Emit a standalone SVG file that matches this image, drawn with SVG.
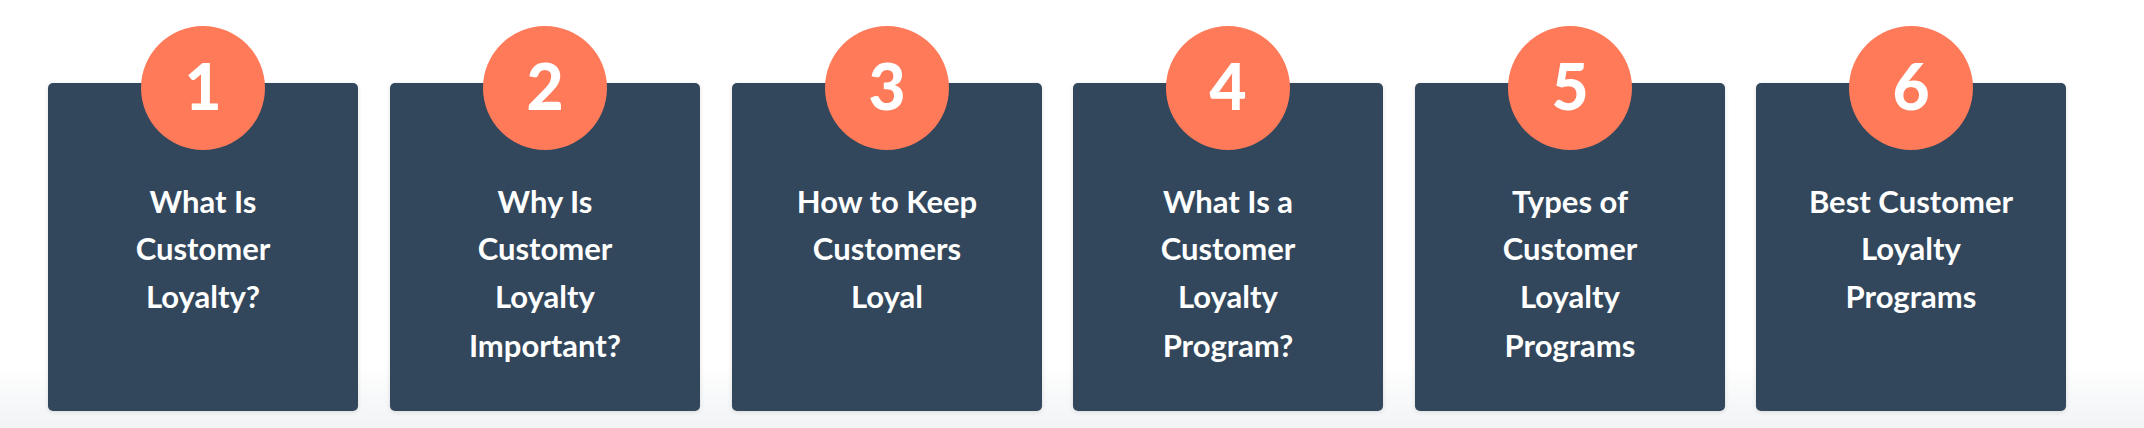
<svg xmlns="http://www.w3.org/2000/svg" width="2144" height="428" viewBox="0 0 2144 428">
<defs>
<linearGradient id="bg" x1="0" y1="0" x2="0" y2="1"><stop offset="0.85" stop-color="#ffffff"/><stop offset="1" stop-color="#f1f3f5"/></linearGradient>
<filter id="sh" x="-10%" y="-10%" width="120%" height="120%"><feDropShadow dx="0" dy="1" stdDeviation="2" flood-color="#000" flood-opacity="0.12"/></filter>
</defs>
<style>
.card{fill:#33475b;filter:url(#sh)}
.circ{fill:#ff7a59}
.num{font-family:Lato,"Open Sans",sans-serif;font-weight:900;font-size:64px;fill:#fff;text-anchor:middle}
.t{font-family:Lato,"Open Sans",sans-serif;font-weight:700;font-size:31px;fill:#fff;text-anchor:middle}
</style>
<rect width="2144" height="428" fill="url(#bg)"/>
<g id="connectors"/>
<g id="n1"><rect class="card" x="48" y="83" width="310" height="328" rx="5"/><circle class="circ" cx="203" cy="88" r="62"/><text class="num" x="203" y="110">1</text><text class="t" x="203" y="213">What Is</text><text class="t" x="203" y="260">Customer</text><text class="t" x="203" y="308">Loyalty?</text></g>
<g id="n2"><rect class="card" x="390" y="83" width="310" height="328" rx="5"/><circle class="circ" cx="545" cy="88" r="62"/><text class="num" x="545" y="110">2</text><text class="t" x="545" y="213">Why Is</text><text class="t" x="545" y="260">Customer</text><text class="t" x="545" y="308">Loyalty</text><text class="t" x="545" y="357">Important?</text></g>
<g id="n3"><rect class="card" x="732" y="83" width="310" height="328" rx="5"/><circle class="circ" cx="887" cy="88" r="62"/><text class="num" x="887" y="110">3</text><text class="t" x="887" y="213">How to Keep</text><text class="t" x="887" y="260">Customers</text><text class="t" x="887" y="308">Loyal</text></g>
<g id="n4"><rect class="card" x="1073" y="83" width="310" height="328" rx="5"/><circle class="circ" cx="1228" cy="88" r="62"/><text class="num" x="1228" y="110">4</text><text class="t" x="1228" y="213">What Is a</text><text class="t" x="1228" y="260">Customer</text><text class="t" x="1228" y="308">Loyalty</text><text class="t" x="1228" y="357">Program?</text></g>
<g id="n5"><rect class="card" x="1415" y="83" width="310" height="328" rx="5"/><circle class="circ" cx="1570" cy="88" r="62"/><text class="num" x="1570" y="110">5</text><text class="t" x="1570" y="213">Types of</text><text class="t" x="1570" y="260">Customer</text><text class="t" x="1570" y="308">Loyalty</text><text class="t" x="1570" y="357">Programs</text></g>
<g id="n6"><rect class="card" x="1756" y="83" width="310" height="328" rx="5"/><circle class="circ" cx="1911" cy="88" r="62"/><text class="num" x="1911" y="110">6</text><text class="t" x="1911" y="213">Best Customer</text><text class="t" x="1911" y="260">Loyalty</text><text class="t" x="1911" y="308">Programs</text></g>
</svg>
